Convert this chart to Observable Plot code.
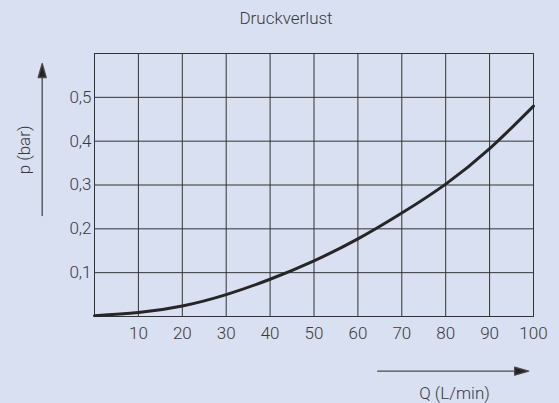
<!DOCTYPE html>
<html>
<head>
<meta charset="utf-8">
<script src="https://cdn.jsdelivr.net/npm/d3@7"></script>
<script src="https://cdn.jsdelivr.net/npm/@observablehq/plot@0.6"></script>
<style>
  html, body { margin: 0; padding: 0; background: #d8e0f2; }
</style>
</head>
<body>
<div id="chart"></div>
<script>
// Data
const title = "Druckverlust";
const xLabel = "Q (L/min)";
const yLabel = "p (bar)";
const flow = [0, 10, 20, 30, 40, 50, 60, 70, 80, 90, 100];
const pressure = [0.002, 0.009, 0.024, 0.050, 0.085, 0.127, 0.177, 0.236, 0.302, 0.383, 0.480];
const xTicks = [10, 20, 30, 40, 50, 60, 70, 80, 90, 100];
const yTicks = [0.1, 0.2, 0.3, 0.4, 0.5];
const xGrid = [0, 10, 20, 30, 40, 50, 60, 70, 80, 90, 100];
const yGrid = [0, 0.1, 0.2, 0.3, 0.4, 0.5];

const data = flow.map((q, i) => ({q, p: pressure[i]}));

// filled-head arrow shape (drawn pointing "up", rotated by the vector mark)
const arrowShape = {
  draw(ctx, l) {
    const head = 14, wing = 4;
    ctx.moveTo(0, 0);
    ctx.lineTo(0, -(l - head));
    ctx.moveTo(-wing, -(l - head));
    ctx.lineTo(0, -l);
    ctx.lineTo(wing, -(l - head));
    ctx.closePath();
  }
};

const chart = Plot.plot({
  width: 559,
  height: 403,
  marginLeft: 94,
  marginRight: 26,
  marginTop: 53,
  marginBottom: 87,
  style: {
    background: "#d8e0f2",
    fontFamily: "Roboto, 'Liberation Sans', sans-serif",
    fontSize: "17px",
    fontWeight: 300,
    color: "#3a3a3a"
  },
  x: {domain: [0, 100]},
  y: {domain: [0, 0.6]},
  marks: [
    Plot.ruleX(xGrid, {stroke: "#333", strokeWidth: 1}),
    Plot.ruleY(yGrid, {stroke: "#333", strokeWidth: 1}),
    Plot.frame({stroke: "#333", strokeWidth: 1}),
    Plot.axisX({ticks: xTicks, tickSize: 0, tickPadding: 10, label: null}),
    Plot.axisY({ticks: yTicks, tickSize: 0, tickPadding: 3, label: null,
      tickFormat: d => d.toFixed(1).replace(".", ",")}),
    Plot.line(data, {x: "q", y: "p", curve: "natural", stroke: "#262626", strokeWidth: 3}),
    // title
    Plot.text([title], {frameAnchor: "top", lineAnchor: "middle", dx: -28, dy: -35, fontSize: 17, fill: "#3a3a3a"}),
    // x axis arrow + label
    Plot.vector([0], {x: () => 64.5, y: () => 0, dy: 54.7, length: 151, rotate: 90, anchor: "start",
      shape: arrowShape, stroke: "#4a4a4a", strokeWidth: 1.3, fill: "#222", clip: false}),
    Plot.text([xLabel], {x: () => 82, y: () => 0, dy: 77, fontSize: 17, fill: "#3a3a3a", clip: false}),
    // y axis arrow + label
    Plot.vector([0], {x: () => 0, y: () => 0.2304, dx: -52.3, length: 152, rotate: 0, anchor: "start",
      shape: arrowShape, stroke: "#4a4a4a", strokeWidth: 1.3, fill: "#222", clip: false}),
    Plot.text([yLabel], {x: () => 0, y: () => 0.38, dx: -70, rotate: -90, fontSize: 17, fill: "#3a3a3a", clip: false})
  ]
});
document.getElementById("chart").append(chart);
</script>
</body>
</html>
